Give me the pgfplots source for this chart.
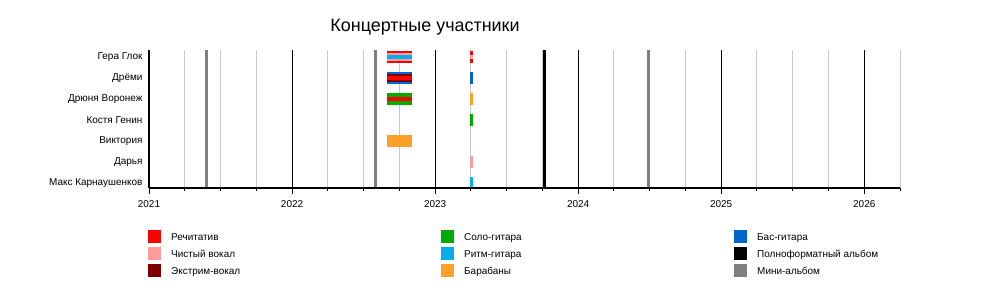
\documentclass[border=0pt]{standalone}
\usepackage{pgfplots}
\pgfplotsset{compat=1.18}
\usepackage{fontspec}
\setmainfont{Liberation Sans}
\definecolor{cRec}{HTML}{FF0000}
\definecolor{cClean}{HTML}{FF9C9C}
\definecolor{cExt}{HTML}{7F0000}
\definecolor{cLead}{HTML}{00AA00}
\definecolor{cRhythm}{HTML}{00AEEF}
\definecolor{cDrum}{HTML}{FFA028}
\definecolor{cBass}{HTML}{0066CC}
\definecolor{cLP}{HTML}{000000}
\definecolor{cEP}{HTML}{808080}
\definecolor{cGrid}{HTML}{C8C8C8}
\newcommand\legitem[4]{%
  \fill[#3] (#1,#2) rectangle ++(13,13);
  \node[anchor=base west, inner sep=0pt, font=\fontsize{10}{12}\selectfont] at (#1+23,#2+3) {#4};}
\pgfplotsset{common/.style={
  at={(149bp,110bp)}, anchor=south west,
  scale only axis, width=751bp, height=138bp,
  xmin=2021, xmax=2026.25, ymin=0, ymax=138,
  xtick={2021,2022,2023,2024,2025,2026},
  minor xtick={2021.25,2021.5,2021.75,2022.25,2022.5,2022.75,2023.25,2023.5,2023.75,2024.25,2024.5,2024.75,2025.25,2025.5,2025.75,2026.25},
  ticklabel style={font=\fontsize{10}{12}\selectfont},
  /pgf/number format/assume math mode=true,
  /pgf/number format/1000 sep={},
  no markers,
}}
\begin{document}
\begin{tikzpicture}[x=1bp,y=1bp]
\path[use as bounding box] (0,0) rectangle (1000,298);
\begin{axis}[common,
  axis x line*=bottom, axis y line*=left,
  axis line style={-, line width=1.3bp, black},
  xmajorgrids, xminorgrids,
  major grid style={black, line width=1bp},
  minor grid style={cGrid, line width=1bp},
  xtick style={draw=none}, xticklabels={},
  ytick style={draw=none},
  ytick={131,110,89,68,47,26,5},
  yticklabels={Гера Глок,Дрёми,Дрюня Воронеж,Костя Генин,Виктория,Дарья,Макс Карнаушенков},
  yticklabel style={xshift=-3bp},
]
% mini-albums and full album
\addplot[cEP, line width=3bp] coordinates {(2021.40,0) (2021.40,138)};
\addplot[cEP, line width=3bp] coordinates {(2022.584,0) (2022.584,138)};
\addplot[cEP, line width=3bp] coordinates {(2024.493,0) (2024.493,138)};
\addplot[cLP, line width=3bp] coordinates {(2023.766,0) (2023.766,138)};
% Гера Глок
\addplot[cRec, line width=12bp] coordinates {(2022.664,131) (2022.839,131)};
\addplot[cClean, line width=8bp] coordinates {(2022.664,131) (2022.839,131)};
\addplot[cRhythm, line width=4bp] coordinates {(2022.664,131) (2022.839,131)};
\addplot[cRec, line width=12bp] coordinates {(2023.245,131) (2023.264,131)};
\addplot[cClean, line width=4bp] coordinates {(2023.245,131) (2023.264,131)};
% Дрёми
\addplot[cBass, line width=12bp] coordinates {(2022.664,110) (2022.839,110)};
\addplot[cExt, line width=8bp] coordinates {(2022.664,110) (2022.839,110)};
\addplot[cRec, line width=4bp] coordinates {(2022.664,110) (2022.839,110)};
\addplot[cBass, line width=12bp] coordinates {(2023.245,110) (2023.264,110)};
% Дрюня Воронеж
\addplot[cLead, line width=12bp] coordinates {(2022.664,89) (2022.839,89)};
\addplot[cRec, line width=4bp] coordinates {(2022.664,89) (2022.839,89)};
\addplot[cDrum, line width=12bp] coordinates {(2023.245,89) (2023.264,89)};
% Костя Генин
\addplot[cLead, line width=12bp] coordinates {(2023.245,68) (2023.264,68)};
% Виктория
\addplot[cDrum, line width=12bp] coordinates {(2022.664,47) (2022.839,47)};
% Дарья
\addplot[cClean, line width=12bp] coordinates {(2023.245,26) (2023.264,26)};
% Макс Карнаушенков
\addplot[cRhythm, line width=12bp] coordinates {(2023.245,5) (2023.264,5)};
\end{axis}
\begin{axis}[common,
  axis x line*=bottom, axis y line=none,
  axis line style={-, line width=1.3bp, black},
  ytick=\empty,
  major tick length=6bp, minor tick length=3bp,
  xtick style={draw=none},
  tick align=outside,
  xticklabel style={yshift=-3bp},
  clip=false,
]
\pgfplotsinvokeforeach{2021,2022,2023,2024,2025,2026}{
  \draw[black, line width=1bp] (axis cs:#1,0) -- ([yshift=-6bp]axis cs:#1,0);}
\pgfplotsinvokeforeach{2021.25,2021.5,2021.75,2022.25,2022.5,2022.75,2023.25,2023.5,2023.75,2024.25,2024.5,2024.75,2025.25,2025.5,2025.75,2026.25}{
  \draw[black, line width=1bp] (axis cs:#1,0) -- ([yshift=-3bp]axis cs:#1,0);}
\end{axis}
\node[anchor=base, inner sep=0pt, font=\fontsize{18}{21}\selectfont] at (425,267) {Концертные участники};
\legitem{148}{55}{cRec}{Речитатив}
\legitem{148}{38}{cClean}{Чистый вокал}
\legitem{148}{21}{cExt}{Экстрим-вокал}
\legitem{441}{55}{cLead}{Соло-гитара}
\legitem{441}{38}{cRhythm}{Ритм-гитара}
\legitem{441}{21}{cDrum}{Барабаны}
\legitem{734}{55}{cBass}{Бас-гитара}
\legitem{734}{38}{cLP}{Полноформатный альбом}
\legitem{734}{21}{cEP}{Мини-альбом}
\end{tikzpicture}
\end{document}
